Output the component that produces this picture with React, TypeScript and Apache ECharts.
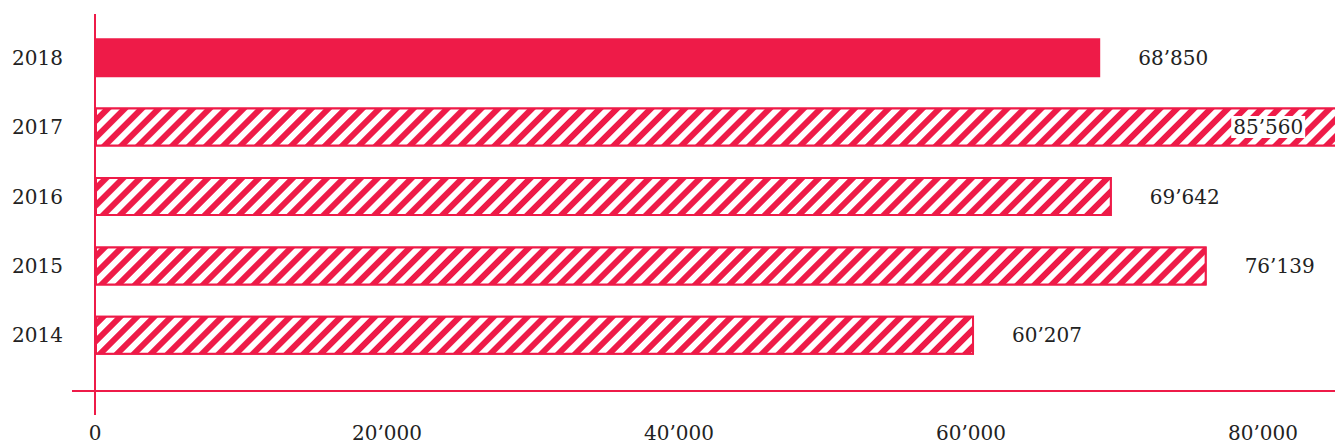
import React, { useEffect, useRef } from "react";
import * as echarts from "echarts";

const categories = ["2014", "2015", "2016", "2017", "2018"];
const values = [60207, 76139, 69642, 85560, 68850];
const tickValues = [0, 20000, 40000, 60000, 80000];
const solidYear = "2018";
const clampedYear = "2017";

const RED = "#ee1b48";
const TEXT = "#222222";
const FONT = "DejaVu Serif";

const fmt = (v: number) =>
  String(Math.round(v)).replace(/\B(?=(\d{3})+(?!\d))/g, "\u2019");

export default function App() {
  const ref = useRef<HTMLDivElement>(null);
  useEffect(() => {
    if (!ref.current) return;
    const chart = echarts.init(ref.current, undefined, { renderer: "svg" });
    const data = values.map((v, i) => {
      const cat = categories[i];
      const item: any = { value: v };
      if (cat !== solidYear) {
        item.itemStyle = {
          color: RED,
          borderColor: RED,
          borderWidth: 2,
          decal: {
            symbol: "rect",
            symbolSize: 1,
            color: "#ffffff",
            dashArrayX: [1, 0],
            dashArrayY: [6, 6],
            rotation: -Math.PI / 4,
          },
        };
      }
      if (cat === clampedYear) {
        item.label = {
          position: "insideRight",
          distance: 39,
          backgroundColor: "#ffffff",
          padding: [1, 2],
        };
      }
      return item;
    });
    chart.setOption({
      animation: false,
      grid: { left: 95, top: 23, width: 1460, height: 347, containLabel: false },
      xAxis: {
        type: "value",
        min: 0,
        max: 100000,
        interval: 20000,
        offset: 21,
        axisLine: { show: false },
        axisTick: { show: false },
        splitLine: { show: false },
        axisLabel: {
          margin: 32,
          color: TEXT,
          fontFamily: FONT,
          fontSize: 20,
          formatter: (v: number) => (tickValues.indexOf(v) >= 0 ? fmt(v) : ""),
        },
      },
      yAxis: {
        type: "category",
        data: categories,
        axisLine: { show: false },
        axisTick: { show: false },
        splitLine: { show: false },
        axisLabel: {
          margin: 32,
          color: TEXT,
          fontFamily: FONT,
          fontSize: 20,
        },
      },
      series: [
        {
          type: "bar",
          data,
          barWidth: 39,
          itemStyle: { color: RED },
          label: {
            show: true,
            position: "right",
            distance: 38,
            color: TEXT,
            fontFamily: FONT,
            fontSize: 20,
            formatter: (p: any) => fmt(p.value),
          },
        },
      ],
      graphic: [
        {
          type: "line",
          shape: { x1: 72, y1: 391, x2: 1600, y2: 391 },
          style: { stroke: RED, lineWidth: 2 },
        },
        {
          type: "line",
          shape: { x1: 95, y1: 14, x2: 95, y2: 415 },
          style: { stroke: RED, lineWidth: 2 },
        },
      ],
    });
    return () => chart.dispose();
  }, []);
  return (
    <div
      style={{
        position: "fixed",
        left: 0,
        top: 0,
        width: 1335,
        height: 445,
        overflow: "hidden",
        background: "#fff",
      }}
    >
      <div ref={ref} style={{ width: 1600, height: 445 }} />
    </div>
  );
}
